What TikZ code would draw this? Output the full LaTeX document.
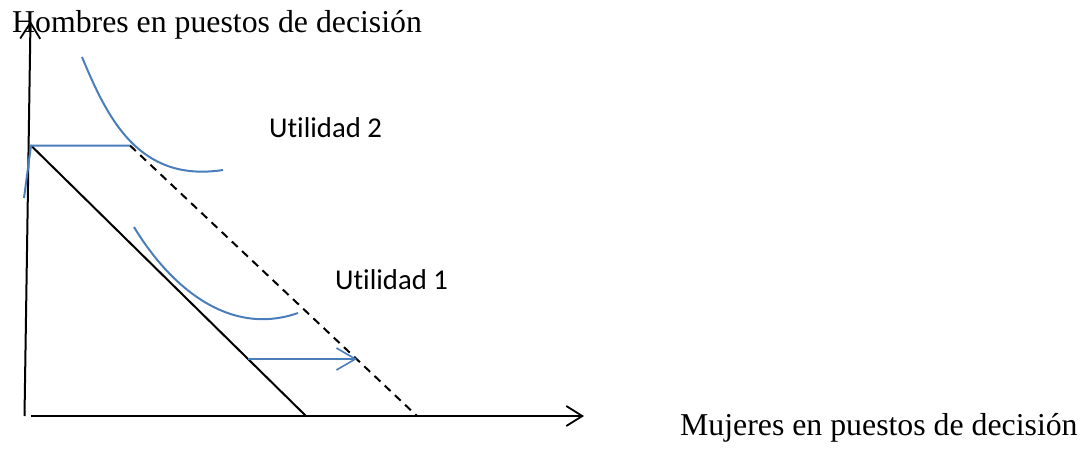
\documentclass[tikz,border=0pt]{standalone}
\usepackage{fontspec}
\setmainfont{Liberation Serif}
\newfontfamily\calibrifont[Ligatures=NoCommon]{Carlito}
\usetikzlibrary{arrows.meta}
\definecolor{curvecolor}{RGB}{74, 126, 187}

\begin{document}
\begin{tikzpicture}[
    x=1pt, y=-1pt,
    axis/.style={line width=2pt, -{Straight Barb[length=16pt, width=20pt, line width=1.8pt]}},
    budget/.style={line width=2pt},
    newbudget/.style={line width=2pt, dash pattern=on 8pt off 6pt},
    indiff/.style={draw=curvecolor, line width=2pt},
    axislabel/.style={font=\fontsize{31.8}{36}\selectfont, inner sep=0pt, anchor=base west},
    utillabel/.style={font=\calibrifont\fontsize{28.7}{32}\selectfont, inner sep=0pt, anchor=base west}
]
    \useasboundingbox (0,0) rectangle (1085,451);

    % Axes
    \coordinate (origin) at (24.5,416);
    \coordinate (ytop) at (30.5,21);
    \coordinate (xstart) at (31,416);
    \coordinate (xend) at (584,416);
    \draw[axis] (origin) -- (ytop);
    \draw[axis] (xstart) -- (xend);

    % Labels
    \node[axislabel] (hombres) at (12,32) {Hombres en puestos de decisión};
    \node[axislabel] (mujeres) at (680,435) {Mujeres en puestos de decisión};
    \node[utillabel] (util2) at (269,137) {Utilidad 2};
    \node[utillabel] (util1) at (335,289) {Utilidad 1};

    % Budget lines
    \coordinate (corner) at (31,145.5);
    \coordinate (solidend) at (306,416);
    \coordinate (dashtop) at (130,145.5);
    \coordinate (dashend) at (417,416);
    \draw[budget] (corner) -- (solidend);
    \draw[newbudget] (dashtop) -- (dashend);

    % Shift
    \coordinate (lowleft) at (24,198);
    \coordinate (arrstart) at (248,359);
    \coordinate (arrend) at (357,359);
    \draw[indiff] (lowleft) -- (corner) -- (dashtop);
    \draw[indiff, -{Straight Barb[length=19pt, width=22pt, line width=1.6pt]}] (arrstart) -- (arrend);

    % Indifference curves
    \draw[indiff] (82,57) .. controls (107,117) and (138,183) .. (223,170);
    \draw[indiff] (134,227) .. controls (169,285) and (228,337.5) .. (298,313);

\end{tikzpicture}
\end{document}
